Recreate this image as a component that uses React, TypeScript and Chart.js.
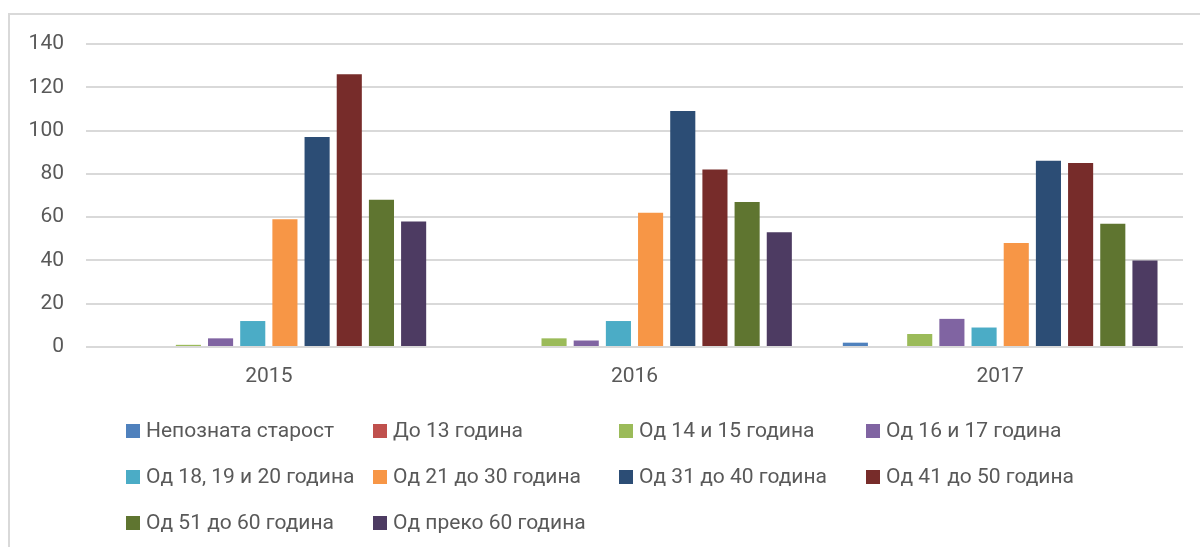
import React, { useEffect, useRef } from "react";
import { Chart, registerables } from "chart.js";

Chart.register(...registerables);

const years = ["2015", "2016", "2017"];
const seriesLabels = [
  "Непозната старост",
  "До 13 година",
  "Од 14 и 15 година",
  "Од 16 и 17 година",
  "Од 18, 19 и 20 година",
  "Од 21 до 30 година",
  "Од 31 до 40 година",
  "Од 41 до 50 година",
  "Од 51 до 60 година",
  "Од преко 60 година",
];
const seriesColors = [
  "#4F81BD",
  "#C0504D",
  "#9BBB59",
  "#8064A2",
  "#4BACC6",
  "#F79646",
  "#2C4D75",
  "#772C2A",
  "#5F7530",
  "#4D3B62",
];
const unknownAge = [0, 0, 2];
const upTo13 = [0, 0, 0];
const age14to15 = [1, 4, 6];
const age16to17 = [4, 3, 13];
const age18to20 = [12, 12, 9];
const age21to30 = [59, 62, 48];
const age31to40 = [97, 109, 86];
const age41to50 = [126, 82, 85];
const age51to60 = [68, 67, 57];
const over60 = [58, 53, 40];
const seriesValues = [
  unknownAge,
  upTo13,
  age14to15,
  age16to17,
  age18to20,
  age21to30,
  age31to40,
  age41to50,
  age51to60,
  over60,
];
const yTicks = [0, 20, 40, 60, 80, 100, 120, 140];

const FONT = "Roboto";
const TEXT = "#595959";

const legendCols = [126, 373, 619, 866];
const legendRows = [431, 477, 523];

const framePlugin = {
  id: "frame",
  beforeDraw(chart: any) {
    const ctx = chart.ctx;
    ctx.save();
    ctx.fillStyle = "#ffffff";
    ctx.fillRect(0, 0, chart.width, chart.height);
    ctx.strokeStyle = "#d9d9d9";
    ctx.lineWidth = 2;
    ctx.strokeRect(9, 14, chart.width + 20, chart.height + 20);
    ctx.restore();
  },
};

const legendPlugin = {
  id: "gridLegend",
  afterDraw(chart: any) {
    const ctx = chart.ctx;
    ctx.save();
    ctx.font = `21px ${FONT}`;
    ctx.textBaseline = "middle";
    ctx.textAlign = "left";
    chart.data.datasets.forEach((ds: any, i: number) => {
      const col = i % 4;
      const row = Math.floor(i / 4);
      const x = legendCols[col];
      const y = legendRows[row];
      ctx.fillStyle = ds.backgroundColor;
      ctx.fillRect(x, y - 7, 14, 14);
      ctx.fillStyle = TEXT;
      ctx.fillText(ds.label, x + 20, y + 1);
    });
    ctx.restore();
  },
};

export default function App() {
  const ref = useRef<HTMLCanvasElement>(null);
  useEffect(() => {
    document.body.style.margin = "0";
    const chart = new Chart(ref.current as HTMLCanvasElement, {
      type: "bar",
      data: {
        labels: years,
        datasets: seriesLabels.map((label, i) => ({
          label,
          data: seriesValues[i],
          backgroundColor: seriesColors[i],
          borderWidth: 0,
          categoryPercentage: 0.88,
          barPercentage: 0.78,
        })),
      },
      options: {
        animation: false,
        responsive: false,
        maintainAspectRatio: false,
        layout: { padding: { left: 0, right: 17, top: 44, bottom: 160 } },
        plugins: {
          legend: { display: false },
          tooltip: { enabled: false },
        },
        scales: {
          x: {
            grid: { display: false, drawTicks: false },
            border: { display: false },
            ticks: { font: { family: FONT, size: 21 }, color: TEXT, padding: 17 },
            afterFit(scale: any) {
              scale.height = 40;
            },
          },
          y: {
            min: 0,
            max: 140,
            afterBuildTicks(scale: any) {
              scale.ticks = yTicks.map((v) => ({ value: v }));
            },
            grid: { color: "#d9d9d9", lineWidth: 2, drawTicks: false },
            border: { display: false },
            ticks: { font: { family: FONT, size: 21 }, color: TEXT, padding: 22 },
            afterFit(scale: any) {
              scale.width = 86;
            },
          },
        },
      },
      plugins: [framePlugin, legendPlugin],
    });
    return () => chart.destroy();
  }, []);
  return <canvas ref={ref} width={1200} height={547} style={{ display: "block" }} />;
}
